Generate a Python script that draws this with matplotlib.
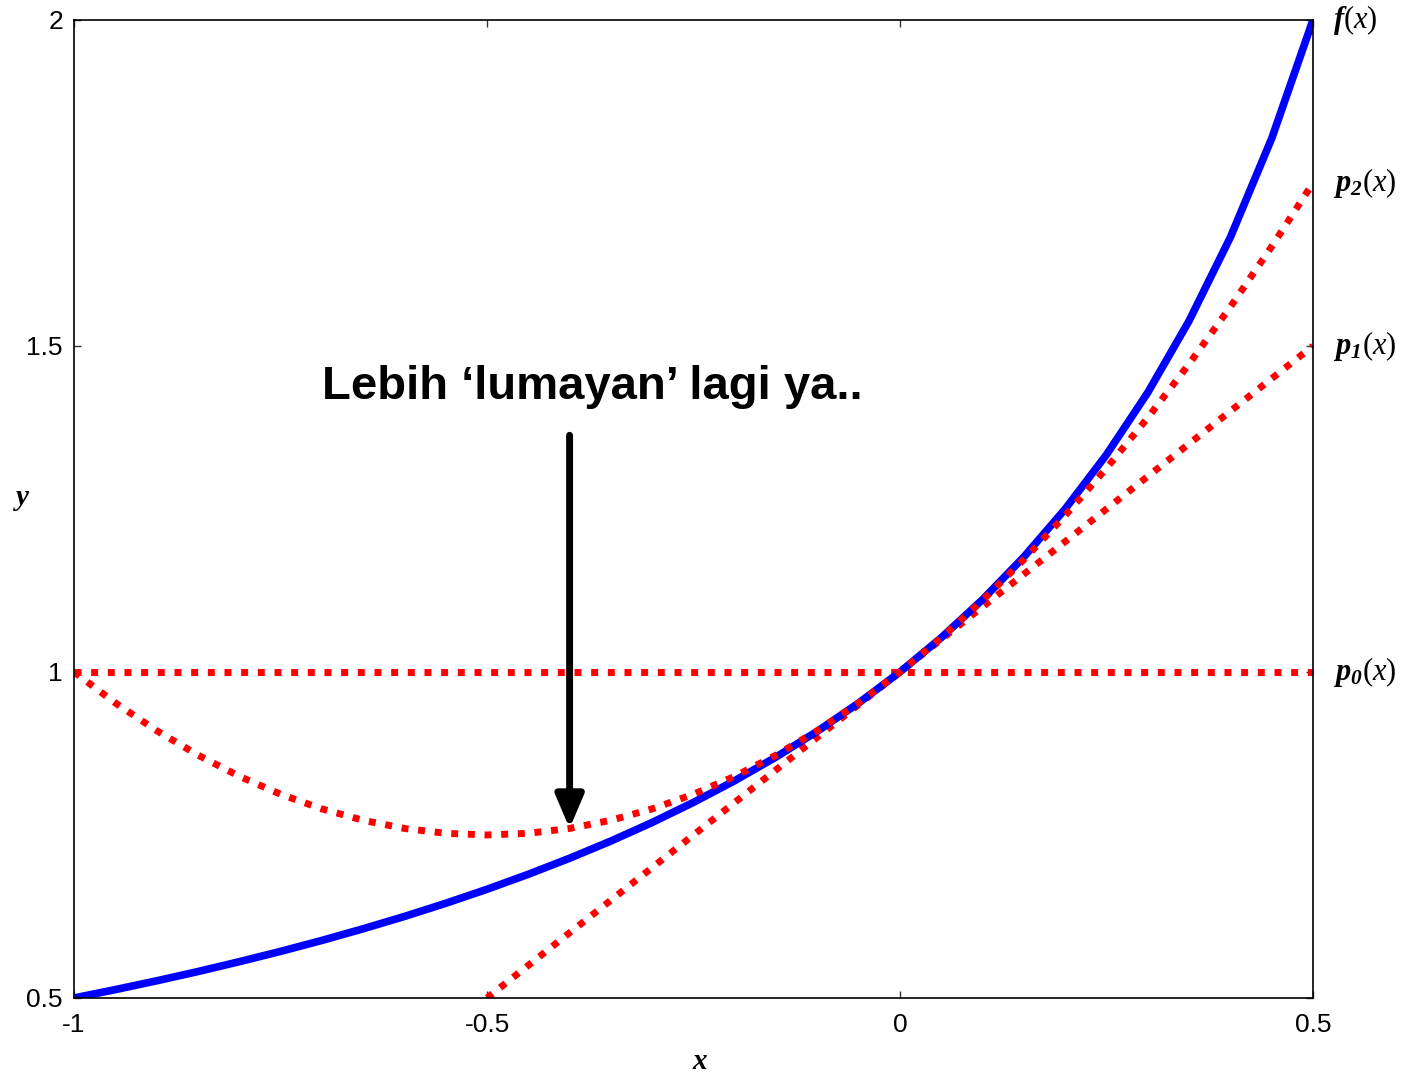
import matplotlib
matplotlib.use('Agg')
import matplotlib.pyplot as plt

plt.rcParams['font.family'] = ['Liberation Sans', 'DejaVu Sans']
plt.rcParams['mathtext.fontset'] = 'custom'
plt.rcParams['mathtext.rm'] = 'Liberation Serif'
plt.rcParams['mathtext.it'] = 'Liberation Serif:italic'
plt.rcParams['mathtext.bf'] = 'Liberation Serif:bold'
plt.rcParams['mathtext.bfit'] = 'Liberation Serif:italic:bold'

# values
x_vals = [-1.0, -0.95, -0.9, -0.85, -0.8, -0.75, -0.7, -0.65, -0.6, -0.55,
          -0.5, -0.45, -0.4, -0.35, -0.3, -0.25, -0.2, -0.15, -0.1, -0.05,
          0.0, 0.05, 0.1, 0.15, 0.2, 0.25, 0.3, 0.35, 0.4, 0.45, 0.5]
f_vals = [0.5, 0.5128, 0.5263, 0.5405, 0.5556, 0.5714, 0.5882, 0.6061, 0.625, 0.6452,
          0.6667, 0.6897, 0.7143, 0.7407, 0.7692, 0.8, 0.8333, 0.8696, 0.9091, 0.9524,
          1.0, 1.0526, 1.1111, 1.1765, 1.25, 1.3333, 1.4286, 1.5385, 1.6667, 1.8182, 2.0]
p2_vals = [1.0, 0.9525, 0.91, 0.8725, 0.84, 0.8125, 0.79, 0.7725, 0.76, 0.7525,
           0.75, 0.7525, 0.76, 0.7725, 0.79, 0.8125, 0.84, 0.8725, 0.91, 0.9525,
           1.0, 1.0525, 1.11, 1.1725, 1.24, 1.3125, 1.39, 1.4725, 1.56, 1.6525, 1.75]
p1_x = [-0.5, 0.5]
p1_vals = [0.5, 1.5]
p0_x = [-1.0, 0.5]
p0_vals = [1.0, 1.0]

x_ticks = [-1, -0.5, 0, 0.5]
x_tick_labels = ['-1', '-0.5', '0', '0.5']
y_ticks = [0.5, 1, 1.5, 2]
y_tick_labels = ['0.5', '1', '1.5', '2']

curve_labels = [r'$\mathbfit{f}(x)$', r'$\mathbfit{p}_{\mathbfit{2}}(x)$',
                r'$\mathbfit{p}_{\mathbfit{1}}(x)$', r'$\mathbfit{p}_{\mathbfit{0}}(x)$']
label_y = [2.0, 1.75, 1.5, 1.0]

note_text = 'Lebih \u2018lumayan\u2019 lagi ya..'
note_x, note_y = -0.372, 1.437
arrow_x = -0.4
arrow_from = 1.363
arrow_to = 0.76

fig = plt.figure(figsize=(14.02, 10.74), dpi=100)
ax = fig.add_axes([0.0528, 0.0708, 0.8837, 0.9106])

dot = (0, (1, 1.4))
ax.plot(p0_x, p0_vals, color='red', lw=5, linestyle=dot)
ax.plot(p1_x, p1_vals, color='red', lw=5, linestyle=dot)
ax.plot(x_vals, f_vals, color='blue', lw=5.5, solid_capstyle='butt')
ax.plot(x_vals, p2_vals, color='red', lw=5, linestyle=dot)

ax.set_xlim(-1, 0.5)
ax.set_ylim(0.5, 2)
ax.set_xticks(x_ticks, x_tick_labels)
ax.set_yticks(y_ticks, y_tick_labels)
ax.tick_params(direction='in', length=5, width=1, labelsize=19,
               top=True, right=True, color='#333333')
ax.tick_params(axis='x', pad=11)
ax.tick_params(axis='y', pad=8)
for s in ax.spines.values():
    s.set_linewidth(1.2)

for lab, yv in zip(curve_labels, label_y):
    ax.text(1.016, yv, lab, transform=ax.get_yaxis_transform(),
            fontsize=22, va='center', ha='left')

ax.text(0.505, -0.064, r'$\mathbfit{x}$', transform=ax.transAxes, fontsize=21,
        ha='center', va='center')
ax.text(-0.042, 0.51, r'$\mathbfit{y}$', transform=ax.transAxes, fontsize=21,
        ha='center', va='center')

ax.annotate('', xy=(arrow_x, arrow_to), xytext=(arrow_x, arrow_from),
            arrowprops=dict(arrowstyle='-|>,head_length=2.0,head_width=0.85',
                            color='black', lw=5, shrinkA=0, shrinkB=0))
ax.text(note_x, note_y, note_text, fontsize=34, fontweight='bold',
        ha='center', va='center')

fig.savefig('out.png', dpi=100)
